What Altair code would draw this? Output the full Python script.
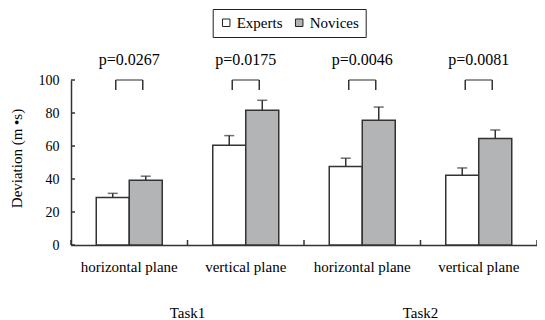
import altair as alt
import pandas as pd

# ---- data ----
planes = ["horizontal plane", "vertical plane", "horizontal plane", "vertical plane"]
tasks = ["Task1", "Task1", "Task2", "Task2"]
series = ["Experts", "Novices"]
experts = [28.8, 60.5, 47.6, 42.3]
experts_err = [2.5, 5.8, 5.0, 4.4]
novices = [39.3, 81.6, 75.6, 64.5]
novices_err = [2.4, 6.1, 8.0, 5.2]
p_values = ["p=0.0267", "p=0.0175", "p=0.0046", "p=0.0081"]
y_ticks = [0, 20, 40, 60, 80, 100]
y_title = "Deviation (m •s)"
bracket_top = 100
bracket_foot = 94
p_level = 109

keys = [f"{t}|{p}" for t, p in zip(tasks, planes)]

rows = []
for name, vals, errs in (("Experts", experts, experts_err), ("Novices", novices, novices_err)):
    for k, v, e in zip(keys, vals, errs):
        rows.append({"grp": k, "series": name, "value": v, "upper": v + e})
bars_df = pd.DataFrame(rows)

ann_df = pd.DataFrame({"grp": keys, "p": p_values, "top": bracket_top,
                       "foot": bracket_foot, "lvl": p_level})

# task label sits on the boundary between its two planes (start of its 2nd group)
task_names = list(dict.fromkeys(tasks))
task_df = pd.DataFrame({
    "grp": [[k for k, t in zip(keys, tasks) if t == tn][1] for tn in task_names],
    "task": task_names,
})
ytick_df = pd.DataFrame({"tick": y_ticks})
xtick_df = pd.DataFrame({"grp": keys})
xend_df = pd.DataFrame({"grp": keys[-1:]})
ytitle_df = pd.DataFrame({"t": [y_title]})

W, H = 466, 165
FONT = "Liberation Serif, Times New Roman, Times, serif"
INK = "#333333"

xscale = alt.Scale(paddingInner=0, paddingOuter=0)
x_axis = alt.Axis(
    title=None, labelExpr="split(datum.label, '|')[1]", labelAngle=0,
    ticks=False, tickSize=0, labelPadding=14, labelFont=FONT,
    labelFontSize=15, labelColor="black", domainColor=INK,
    domainWidth=1.5,
)
x = alt.X("grp:N", sort=keys, scale=xscale, axis=x_axis)
xoff = alt.XOffset("series:N", sort=series,
                   scale=alt.Scale(paddingInner=0, paddingOuter=0.765))

y_axis = alt.Axis(
    values=y_ticks, title=None,
    labelFont=FONT, labelFontSize=14, labelColor="black", ticks=False, tickSize=0,
    labelPadding=12, grid=False, domainColor=INK, domainWidth=1.5,
)
yscale = alt.Scale(domain=[0, 100])

base = alt.Chart(bars_df)

bars = base.mark_bar(stroke=INK, strokeWidth=1.5).encode(
    x=x, xOffset=xoff,
    y=alt.Y("value:Q", scale=yscale, axis=y_axis),
    color=alt.Color(
        "series:N", sort=series,
        scale=alt.Scale(domain=series, range=["#ffffff", "#b3b4b6"]),
        legend=alt.Legend(
            title=None, orient="none", legendX=141.7, legendY=-71,
            direction="horizontal", strokeColor="#222222", padding=6,
            symbolType="square", symbolSize=56, symbolStrokeColor="#222222",
            symbolStrokeWidth=1, labelFont=FONT, labelFontSize=15,
            labelColor="black", labelOffset=3, columnPadding=9,
        ),
    ),
)

stems = base.mark_rule(color=INK, strokeWidth=1.5).encode(
    x=x, xOffset=xoff,
    y=alt.Y("value:Q", scale=yscale, axis=y_axis), y2="upper:Q",
)
caps = base.mark_tick(color=INK, thickness=1.5, size=10).encode(
    x=x, xOffset=xoff, y=alt.Y("upper:Q", scale=yscale, axis=y_axis),
)

ann = alt.Chart(ann_df)
br_top = ann.mark_tick(color=INK, thickness=1.5, size=27).encode(
    x=x, y=alt.Y("top:Q", scale=yscale, axis=y_axis))
br_left = ann.mark_rule(color=INK, strokeWidth=1.5, xOffset=-13.5).encode(
    x=x, y=alt.Y("top:Q", scale=yscale, axis=y_axis), y2="foot:Q")
br_right = ann.mark_rule(color=INK, strokeWidth=1.5, xOffset=13.5).encode(
    x=x, y=alt.Y("top:Q", scale=yscale, axis=y_axis), y2="foot:Q")
p_text = ann.mark_text(font=FONT, fontSize=16, baseline="alphabetic", color="black").encode(
    x=x, y=alt.Y("lvl:Q", scale=yscale, axis=y_axis), text="p:N")

task_text = alt.Chart(task_df).mark_text(
    font=FONT, fontSize=15, baseline="alphabetic", color="black"
).encode(
    x=alt.X("grp:N", sort=keys, bandPosition=0, axis=x_axis, scale=xscale),
    y=alt.value(H + 73),
    text="task:N",
)

ytitle = alt.Chart(ytitle_df).mark_text(
    font=FONT, fontSize=15, fontWeight="normal", angle=270, align="center",
    baseline="middle", color="black",
).encode(x=alt.value(-54), y=alt.value(H / 2 - 4), text="t:N")

# inward-pointing axis ticks
yticks = alt.Chart(ytick_df).mark_rule(color=INK, strokeWidth=1.5).encode(
    y=alt.Y("tick:Q", scale=yscale, axis=y_axis),
    x=alt.value(0), x2=alt.value(4),
)
xticks = alt.Chart(xtick_df).mark_rule(color=INK, strokeWidth=1.5).encode(
    x=alt.X("grp:N", sort=keys, bandPosition=0, axis=x_axis, scale=xscale),
    y=alt.value(H), y2=alt.value(H - 5),
)
xend = alt.Chart(xend_df).mark_rule(color=INK, strokeWidth=1.5).encode(
    x=alt.X("grp:N", sort=keys, bandPosition=1, axis=x_axis, scale=xscale),
    y=alt.value(H), y2=alt.value(H - 5),
)

chart = alt.layer(
    bars, stems, caps, br_top, br_left, br_right, p_text, task_text,
    ytitle, yticks, xticks, xend,
).properties(
    width=W, height=H,
    autosize=alt.AutoSizeParams(type="none"),
    padding={"left": 63, "top": 72, "right": 0, "bottom": 75},
).configure_view(stroke=None)

chart.save("out.html", embed_options={"renderer": "svg", "actions": False})
